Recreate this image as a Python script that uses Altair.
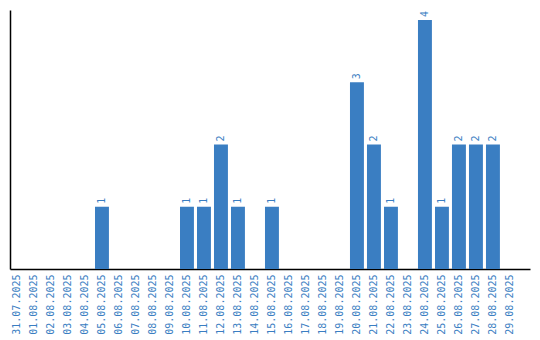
import altair as alt
import pandas as pd

dates = ["31.07.2025", "01.08.2025", "02.08.2025", "03.08.2025", "04.08.2025",
         "05.08.2025", "06.08.2025", "07.08.2025", "08.08.2025", "09.08.2025",
         "10.08.2025", "11.08.2025", "12.08.2025", "13.08.2025", "14.08.2025",
         "15.08.2025", "16.08.2025", "17.08.2025", "18.08.2025", "19.08.2025",
         "20.08.2025", "21.08.2025", "22.08.2025", "23.08.2025", "24.08.2025",
         "25.08.2025", "26.08.2025", "27.08.2025", "28.08.2025", "29.08.2025"]
counts = [0, 0, 0, 0, 0,
          1, 0, 0, 0, 0,
          1, 1, 2, 1, 0,
          1, 0, 0, 0, 0,
          3, 2, 1, 0, 4,
          1, 2, 2, 2, 0]

df = pd.DataFrame({"date": dates, "count": counts})
df["label"] = df["count"].apply(lambda v: str(v) if v > 0 else "")

blue = "#3a7ec2"
font = "DejaVu Sans Mono"

x = alt.X("date:N", sort=dates,
          scale=alt.Scale(paddingInner=0.18, paddingOuter=0.385, align=0),
          axis=alt.Axis(title=None, labelAngle=-90, ticks=False, labelPadding=5,
                        labelColor=blue, labelFont=font, labelFontSize=10,
                        domainColor="#000000", domainWidth=1.5, grid=False))
y = alt.Y("count:Q", scale=alt.Scale(domain=[0, 4.16], nice=False),
          axis=alt.Axis(title=None, labels=False, ticks=False, grid=False,
                        domainColor="#000000", domainWidth=1.5))

bars = alt.Chart(df).mark_bar(color=blue).encode(x=x, y=y)
text = alt.Chart(df).mark_text(angle=270, align="left", baseline="middle", dx=3,
                               color=blue, font=font, fontSize=10).encode(
    x=alt.X("date:N", sort=dates), y="count:Q", text="label:N")

chart = (bars + text).properties(
    width=520, height=259,
    autosize=alt.AutoSizeParams(type="none"),
    padding={"left": 10, "top": 10, "right": 10, "bottom": 71},
    background="white",
).configure_view(stroke=None)

chart.save("out.html", embed_options={"renderer": "svg", "actions": False})
